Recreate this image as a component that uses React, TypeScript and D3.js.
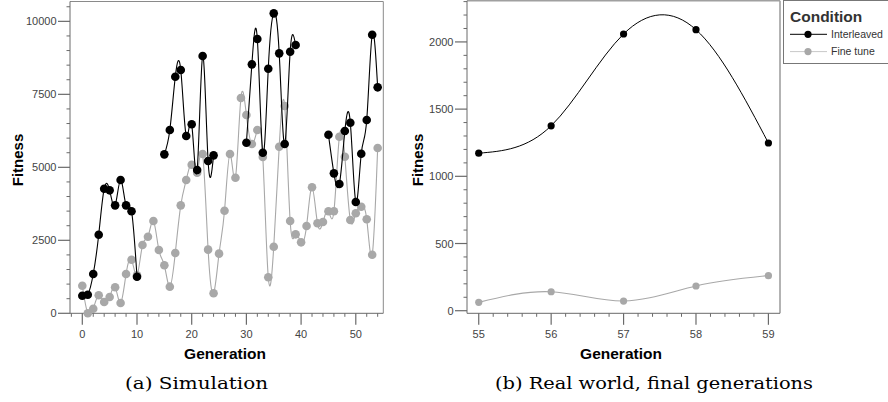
import React from "react";
import * as d3 from "d3";

// ---------- DATA ----------
// (a) Simulation: generation index = array position (0..54)
const simInterleaved: (number | null)[] = [
  603, 637, 1346, 2692, 4267, 4212, 3698, 4565, 3698, 3493, 1253,
  null, null, null, null,
  5445, 6277, 8103, 8332, 6072, 6473, 4908, 8811, 5216, 5410,
  null, null, null, null, null,
  5843, 8527, 9394, 5500, 8378, 10274, 8904, 5798, 8960, 9188,
  null, null, null, null, null,
  6118, 4794, 4428, 6243, 6528, 3812, 5466, 6620, 9541, 7740,
];
const simFineTune: number[] = [
  945, 0, 158, 616, 387, 558, 890, 353, 1346, 1836, 1300,
  2339, 2623, 3161, 2168, 1644, 912, 2065, 3698, 4565, 5089,
  4817, 5455, 2180, 685, 2043, 3515, 5455, 4645, 7374, 6792,
  5798, 6277, 5353, 1233, 2282, 5707, 7100, 3161, 2705, 2431,
  2990, 4315, 3082, 3127, 3493, 3493, 6048, 5363, 3195, 3425,
  3651, 3219, 2007, 5661,
];
const simXTicks = [0, 10, 20, 30, 40, 50];
const simYTicks = [0, 2500, 5000, 7500, 10000];

// (b) Real world, final generations
const realGenerations = [55, 56, 57, 58, 59];
const realInterleaved = [1172, 1376, 2059, 2091, 1248];
const realFineTune = [62, 141, 72, 184, 261];
const realXTicks = [55, 56, 57, 58, 59];
const realYTicks = [0, 500, 1000, 1500, 2000];

const legendItems = ["Interleaved", "Fine tune"];
const captions = ["(a) Simulation", "(b) Real world, final generations"];

// ---------- STYLE ----------
const SANS = "'Liberation Sans', Arial, Helvetica, sans-serif";
const SERIF = "'DejaVu Serif', 'Liberation Serif', serif";
const BLACK = "#000000";
const GRAY_DOT = "#a8a8a8";
const GRAY_LINE = "#a8a8a8";
const AXIS = "#6a6a6a";
const TICKTXT = "#444444";

type Pt = { x: number; y: number };

function runs(xs: number[], ys: (number | null)[]): Pt[][] {
  const out: Pt[][] = [];
  let cur: Pt[] = [];
  ys.forEach((v, i) => {
    if (v === null || v === undefined) {
      if (cur.length) out.push(cur);
      cur = [];
    } else cur.push({ x: xs[i], y: v });
  });
  if (cur.length) out.push(cur);
  return out;
}

function Series({ pts, xs, ys, color, lineColor, r, width }: any) {
  const line = d3
    .line<Pt>()
    .x((d) => xs(d.x))
    .y((d) => ys(d.y))
    .curve(d3.curveNatural);
  return (
    <g>
      {pts.map((run: Pt[], i: number) => (
        <path key={"l" + i} d={line(run) || ""} fill="none" stroke={lineColor} strokeWidth={width} />
      ))}
      {pts.map((run: Pt[], i: number) =>
        run.map((d, j) => <circle key={"c" + i + "-" + j} cx={xs(d.x)} cy={ys(d.y)} r={r} fill={color} />)
      )}
    </g>
  );
}

function Axes({ xs, ys, xMajor, xMinor, yMajor, yMinor, frame, frameColor, frameWidth }: any) {
  const [x0, x1] = xs.range();
  const [yb, yt] = ys.range();
  return (
    <g>
      {/* frame */}
      <line x1={x0} x2={x1} y1={yt} y2={yt} stroke={frameColor} strokeWidth={frameWidth} />
      <line x1={x1} x2={x1} y1={yt} y2={yb} stroke={frameColor} strokeWidth={frameWidth} />
      {/* axes */}
      <line x1={x0} x2={x0} y1={yt} y2={yb} stroke={AXIS} strokeWidth={1} />
      <line x1={x0} x2={x1} y1={yb} y2={yb} stroke={AXIS} strokeWidth={1} />
      {xMinor.map((t: number, i: number) => (
        <line key={"xm" + i} x1={xs(t)} x2={xs(t)} y1={yb} y2={yb + 3.5} stroke={AXIS} strokeWidth={1} />
      ))}
      {xMajor.map((t: number, i: number) => (
        <g key={"xM" + i}>
          <line x1={xs(t)} x2={xs(t)} y1={yb} y2={yb + 11.5} stroke={AXIS} strokeWidth={1.2} />
          <text x={xs(t)} y={338} textAnchor="middle" fontFamily={SANS} fontSize={11} fill={TICKTXT}>
            {t}
          </text>
        </g>
      ))}
      {yMinor.map((t: number, i: number) => (
        <line key={"ym" + i} x1={x0 - 3.5} x2={x0} y1={ys(t)} y2={ys(t)} stroke={AXIS} strokeWidth={1} />
      ))}
      {yMajor.map((t: number, i: number) => (
        <g key={"yM" + i}>
          <line x1={x0 - 12} x2={x0} y1={ys(t)} y2={ys(t)} stroke={AXIS} strokeWidth={1.2} />
          <text x={x0 - 13.5} y={ys(t) + 4} textAnchor="end" fontFamily={SANS} fontSize={11} fill={TICKTXT}>
            {t}
          </text>
        </g>
      ))}
    </g>
  );
}

export default function App() {
  // left chart scales
  const xL = d3.scaleLinear().domain([-2.25, 55.03]).range([70, 383.3]);
  const yL = d3.scaleLinear().domain([0, 10680]).range([313.3, 1.5]);
  // right chart scales
  const xR = d3.scaleLinear().domain([54.838, 59.16]).range([467, 780]);
  const yR = d3.scaleLinear().domain([-19.3, 2306]).range([313.3, 0.8]);

  const simGen = simFineTune.map((_, i) => i);

  const lxMinor = d3.range(-2, 55, 2).filter((t) => t % 10 !== 0);
  const lyMinor = d3.range(0, 10680, 500).filter((t) => t % 2500 !== 0);
  const rxMinor = d3.range(55, 59.01, 0.2).filter((t) => Math.abs(t - Math.round(t)) > 0.01);
  const ryMinor = d3.range(0, 2306, 100).filter((t) => t % 500 !== 0);

  return (
    <svg
      width={888}
      height={402}
      viewBox="0 0 888 402"
      style={{ position: "absolute", left: 0, top: 0, display: "block", background: "#fff" }}
    >
      <rect x={0} y={0} width={888} height={402} fill="#fff" />

      {/* ---------- (a) ---------- */}
      <Axes
        xs={xL}
        ys={yL}
        xMajor={simXTicks}
        xMinor={lxMinor}
        yMajor={simYTicks}
        yMinor={lyMinor}
        frameColor="#8a8a8a"
        frameWidth={1}
      />
      <Series pts={runs(simGen, simFineTune)} xs={xL} ys={yL} color={GRAY_DOT} lineColor={GRAY_LINE} r={4.3} width={1.1} />
      <Series pts={runs(simGen, simInterleaved)} xs={xL} ys={yL} color={BLACK} lineColor={BLACK} r={4.3} width={1.1} />
      <text
        transform={`translate(23,160) rotate(-90)`}
        textAnchor="middle"
        fontFamily={SANS}
        fontWeight="bold"
        fontSize={15}
        fill="#000"
      >
        Fitness
      </text>
      <text x={225} y={359} textAnchor="middle" fontFamily={SANS} fontWeight="bold" fontSize={15.5} fill="#000">
        Generation
      </text>
      <text x={196.5} y={389} textAnchor="middle" fontFamily={SERIF} fontSize={16} fill="#000" textLength={143} lengthAdjust="spacingAndGlyphs">
        {captions[0]}
      </text>

      {/* ---------- (b) ---------- */}
      <Axes
        xs={xR}
        ys={yR}
        xMajor={realXTicks}
        xMinor={rxMinor}
        yMajor={realYTicks}
        yMinor={ryMinor}
        frameColor="#a0a0a0"
        frameWidth={1.6}
      />
      <Series
        pts={runs(realGenerations, realFineTune)}
        xs={xR}
        ys={yR}
        color={GRAY_DOT}
        lineColor={GRAY_LINE}
        r={3.6}
        width={1.1}
      />
      <Series
        pts={runs(realGenerations, realInterleaved)}
        xs={xR}
        ys={yR}
        color={BLACK}
        lineColor={BLACK}
        r={3.6}
        width={1}
      />
      <text
        transform={`translate(423,160) rotate(-90)`}
        textAnchor="middle"
        fontFamily={SANS}
        fontWeight="bold"
        fontSize={15}
        fill="#000"
      >
        Fitness
      </text>
      <text x={621} y={359} textAnchor="middle" fontFamily={SANS} fontWeight="bold" fontSize={15.5} fill="#000">
        Generation
      </text>
      <text x={654} y={389} textAnchor="middle" fontFamily={SERIF} fontSize={16} fill="#000" textLength={318} lengthAdjust="spacingAndGlyphs">
        {captions[1]}
      </text>

      {/* ---------- legend ---------- */}
      <rect x={783.5} y={0.5} width={110} height={63} fill="#fff" stroke="#777" strokeWidth={1} />
      <text x={790} y={21.5} fontFamily={SANS} fontWeight="bold" fontSize={15.5} fill="#333">
        Condition
      </text>
      {legendItems.map((name, i) => {
        const y = 34.3 + i * 17.3;
        const c = i === 0 ? BLACK : GRAY_DOT;
        const lc = i === 0 ? BLACK : "#c8c8c8";
        return (
          <g key={name}>
            <line x1={790} x2={827} y1={y} y2={y} stroke={lc} strokeWidth={1} />
            <circle cx={808} cy={y} r={3.6} fill={c} />
            <text x={831} y={y + 3.8} fontFamily={SANS} fontSize={10.5} fill="#333">
              {name}
            </text>
          </g>
        );
      })}
    </svg>
  );
}
